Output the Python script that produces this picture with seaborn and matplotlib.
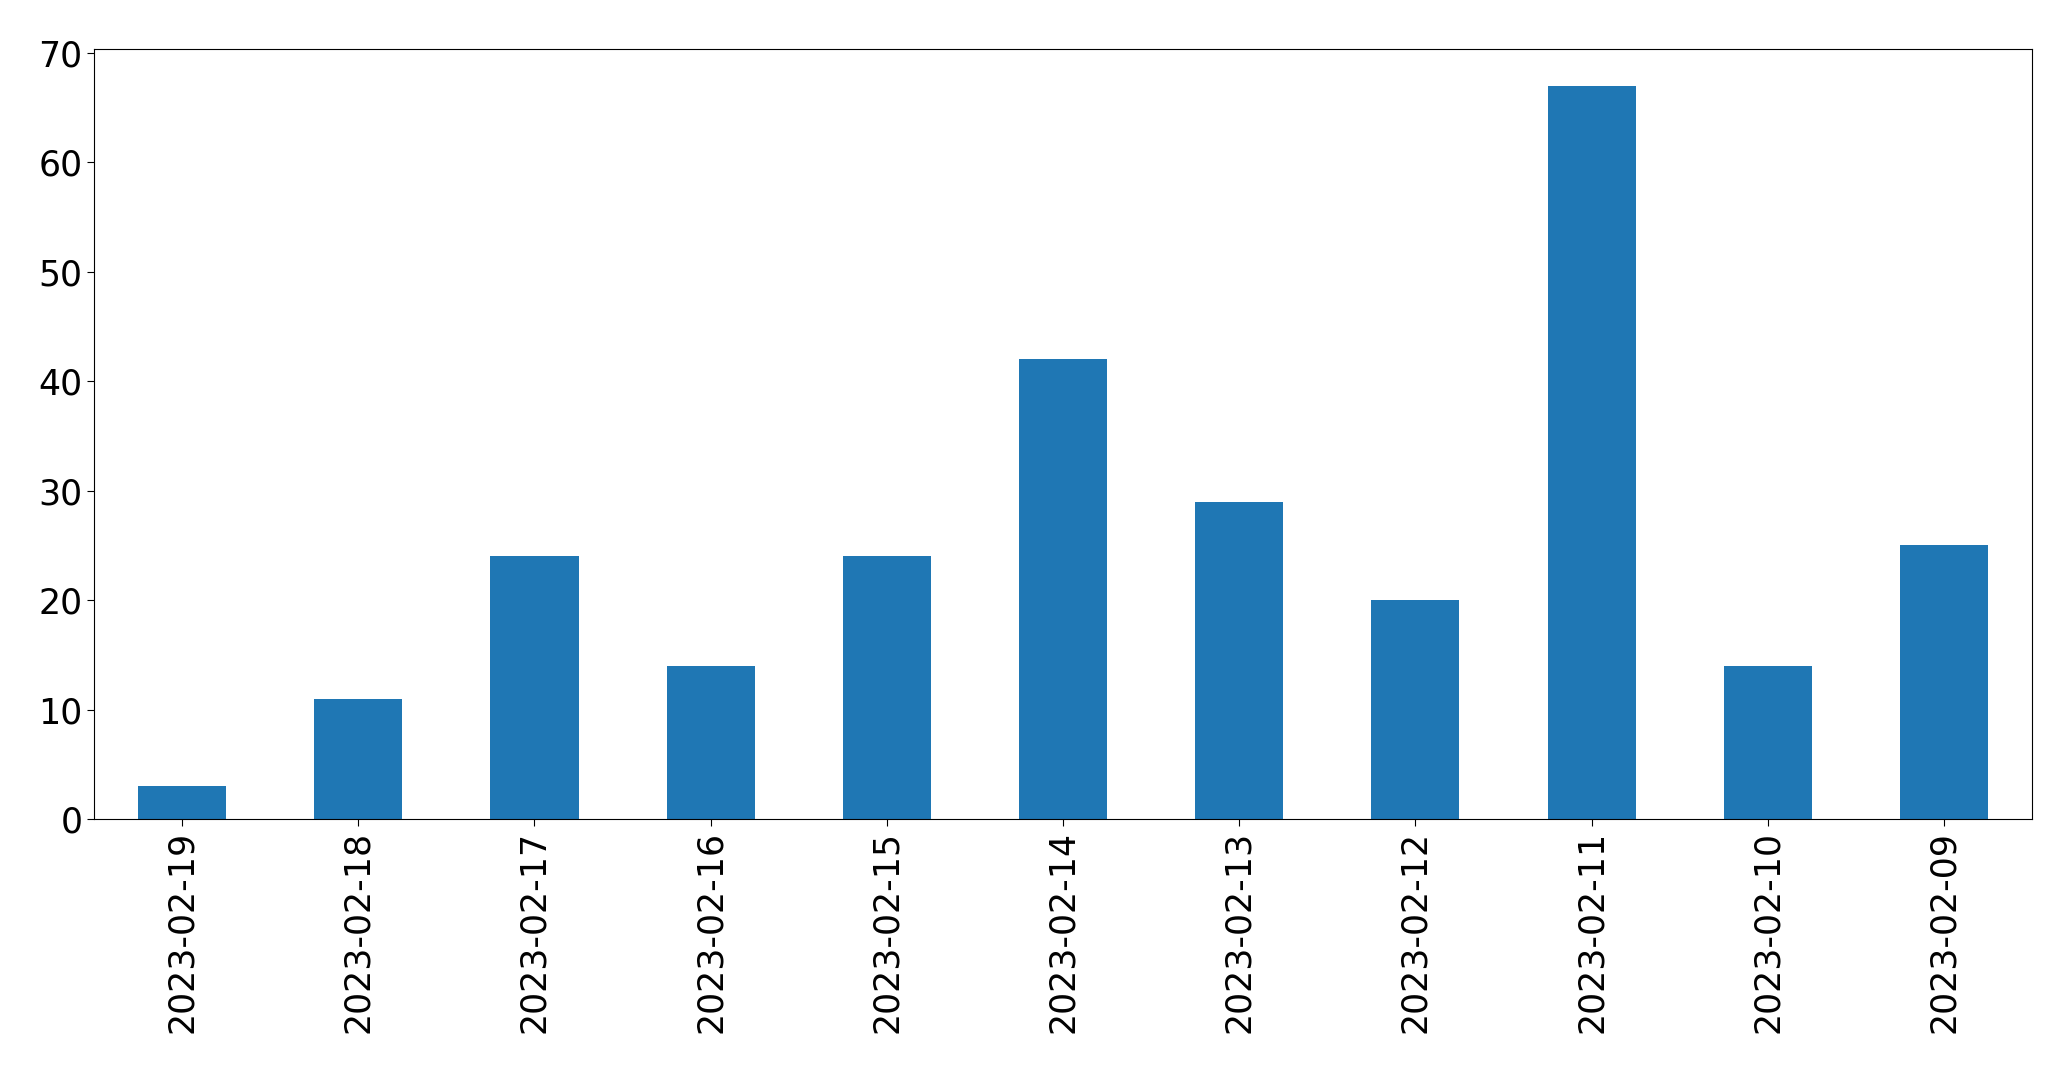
import matplotlib
matplotlib.use("Agg")
import matplotlib.pyplot as plt
import seaborn as sns
import pandas as pd

dates = ["2023-02-19", "2023-02-18", "2023-02-17", "2023-02-16", "2023-02-15",
         "2023-02-14", "2023-02-13", "2023-02-12", "2023-02-11", "2023-02-10",
         "2023-02-09"]
counts = [3, 11, 24, 14, 24, 42, 29, 20, 67, 14, 25]

df = pd.DataFrame({"date": dates, "count": counts})

sns.set_style("ticks")
plt.rcParams["font.family"] = ["DejaVu Sans"]
plt.rcParams["text.color"] = "black"
plt.rcParams["xtick.color"] = "black"
plt.rcParams["ytick.color"] = "black"
plt.rcParams["xtick.labelcolor"] = "black"
plt.rcParams["ytick.labelcolor"] = "black"
plt.rcParams["axes.edgecolor"] = "black"

fig = plt.figure(figsize=(20.71, 10.71), dpi=100)
ax = fig.add_axes([0.0454, 0.2353, 0.9358, 0.7189])
sns.barplot(data=df, x="date", y="count", color="#1f77b4", saturation=1,
            width=0.5, ax=ax, order=dates, linewidth=0)
ax.set_xlim(-0.5, len(dates) - 0.5)
ax.set_ylim(0, max(counts) * 1.05)
ax.set_xlabel("")
ax.set_ylabel("")
ax.tick_params(axis="both", labelsize=25, length=4.9, width=0.8,
               color="black", labelcolor="black")
ax.tick_params(axis="x", rotation=90)
for s in ax.spines.values():
    s.set_visible(True)
    s.set_color("black")
    s.set_linewidth(0.8)
fig.savefig("out.png", dpi=100)
